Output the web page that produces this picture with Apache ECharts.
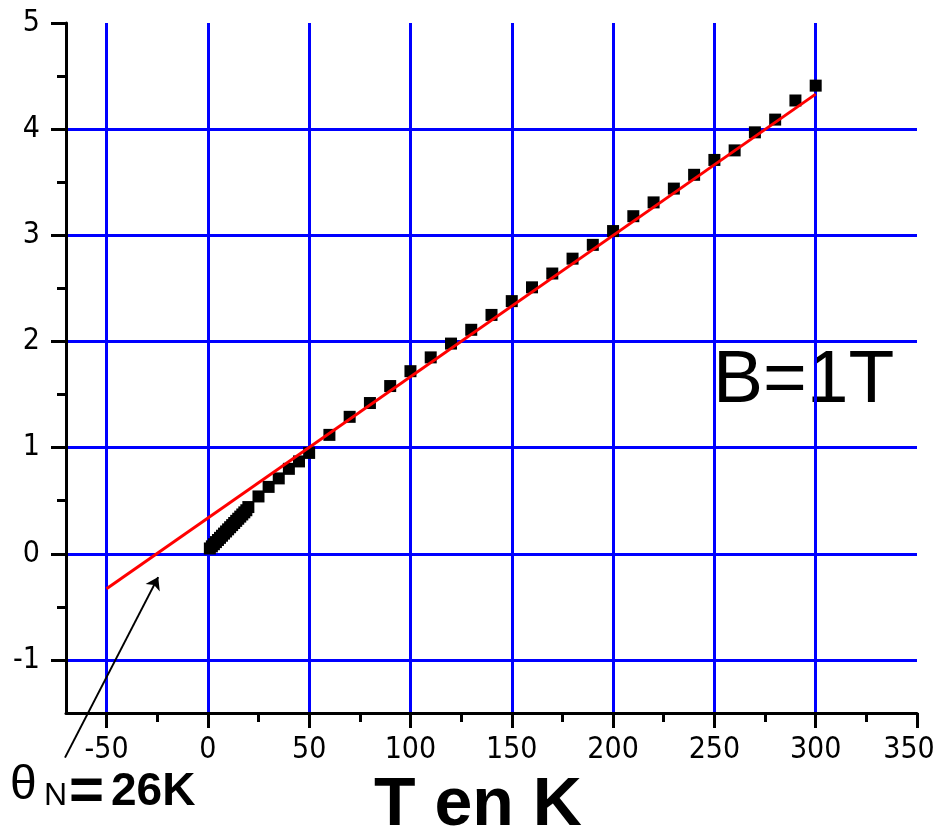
<!DOCTYPE html>
<html>
<head>
<meta charset="utf-8">
<script src="https://cdn.jsdelivr.net/npm/echarts@6/dist/echarts.min.js"></script>
<style>
  html, body { margin: 0; padding: 0; background: #fff; }
  #chart { width: 939px; height: 832px; }
</style>
</head>
<body>
<div id="chart"></div>
<script>
// measured points (T in K, y)
const tempK = [1, 2, 3, 4, 5, 6, 7, 8, 9, 10, 11, 12, 13, 14, 15, 16, 17, 18, 19, 20,
  25, 30, 35, 40, 45, 50,
  60, 70, 80, 90, 100, 110, 120, 130, 140, 150, 160, 170, 180, 190, 200,
  210, 220, 230, 240, 250, 260, 270, 280, 290, 300];
const yValues = [0.05, 0.07, 0.09, 0.11, 0.13, 0.15, 0.17, 0.19, 0.21, 0.23, 0.25, 0.27, 0.29, 0.31, 0.33, 0.35, 0.37, 0.39, 0.41, 0.44,
  0.54, 0.63, 0.71, 0.80, 0.87, 0.95,
  1.12, 1.29, 1.42, 1.58, 1.72, 1.85, 1.98, 2.11, 2.25, 2.38, 2.51, 2.64, 2.78, 2.91, 3.04,
  3.18, 3.31, 3.44, 3.57, 3.71, 3.80, 3.97, 4.09, 4.27, 4.41];

// linear fit
const fitX = [-50, 300];
const fitY = [-0.33, 4.33];

// arrow to theta_N
const arrowFrom = [-70.5, -1.92];
const arrowTo = [-24.5, -0.22];

// ticks
const xMajor = [-50, 0, 50, 100, 150, 200, 250, 300, 350];
const xMinor = [-25, 25, 75, 125, 175, 225, 275, 325];
const xGrid = [-50, 0, 50, 100, 150, 200, 250, 300];
const yMajor = [-1, 0, 1, 2, 3, 4, 5];
const yMinor = [-0.5, 0.5, 1.5, 2.5, 3.5, 4.5];
const yGrid = [-1, 0, 1, 2, 3, 4];

const labelFont = "'Liberation Sans Narrow', 'DejaVu Sans Condensed', 'Liberation Sans', sans-serif";

const chart = echarts.init(document.getElementById('chart'));

const xBase = { type: 'value', min: -70, max: 350, position: 'bottom' };
const yBase = { type: 'value', min: -1.5, max: 5, position: 'left' };

const option = {
  backgroundColor: '#fff',
  animation: false,
  grid: { left: 66, right: 22, top: 23, bottom: 119, outerBoundsMode: 'none', containLabel: false },
  xAxis: [
    Object.assign({}, xBase, {
      axisLine: { show: true, onZero: false, lineStyle: { color: '#000', width: 3 } },
      axisTick: { show: true, customValues: xMajor, length: 15, lineStyle: { color: '#000', width: 3 } },
      axisLabel: {
        customValues: xMajor, color: '#000', fontSize: 30, fontFamily: labelFont, margin: 22,
        // last label sits against the right edge, nudge it left a little
        formatter: (v) => (v === 350 ? '{m|' + v + '}' : String(v)),
        rich: { m: { padding: [0, 16, 0, 0], color: '#000', fontSize: 30, fontFamily: labelFont } }
      },
      splitLine: { show: false }
    }),
    Object.assign({}, xBase, {
      axisLine: { show: false, onZero: false },
      axisTick: { show: true, customValues: xMinor, length: 9, lineStyle: { color: '#000', width: 3 } },
      axisLabel: { show: false },
      splitLine: { show: false }
    }),
    Object.assign({}, xBase, {
      axisLine: { show: false, onZero: false },
      axisTick: { show: false, customValues: xGrid },
      axisLabel: { show: false },
      splitLine: { show: true, lineStyle: { color: '#0000ff', width: 3 } }
    })
  ],
  yAxis: [
    Object.assign({}, yBase, {
      axisLine: { show: true, onZero: false, lineStyle: { color: '#000', width: 3 } },
      axisTick: { show: true, customValues: yMajor, length: 15, lineStyle: { color: '#000', width: 3 } },
      axisLabel: { customValues: yMajor, color: '#000', fontSize: 30, fontFamily: labelFont, margin: 26 },
      splitLine: { show: false }
    }),
    Object.assign({}, yBase, {
      axisLine: { show: false, onZero: false },
      axisTick: { show: true, customValues: yMinor, length: 9, lineStyle: { color: '#000', width: 3 } },
      axisLabel: { show: false },
      splitLine: { show: false }
    }),
    Object.assign({}, yBase, {
      axisLine: { show: false, onZero: false },
      axisTick: { show: false, customValues: yGrid },
      axisLabel: { show: false },
      splitLine: { show: true, lineStyle: { color: '#0000ff', width: 3 } }
    })
  ],
  series: [
    {
      type: 'scatter',
      data: tempK.map((t, i) => [t, yValues[i]]),
      symbol: 'rect',
      symbolSize: 12,
      itemStyle: { color: '#000', opacity: 1 },
      z: 3
    },
    {
      type: 'line',
      data: fitX.map((t, i) => [t, fitY[i]]),
      symbol: 'none',
      lineStyle: { color: '#ff0000', width: 3 },
      z: 4
    },
    {
      type: 'lines',
      coordinateSystem: 'cartesian2d',
      clip: false,
      symbol: ['none', 'arrow'],
      symbolSize: 12,
      lineStyle: { color: '#000', width: 2, opacity: 1 },
      data: [{ coords: [arrowFrom, arrowTo] }],
      z: 5
    }
  ],
  graphic: [
    {
      type: 'text', left: 713, top: 344,
      style: { text: 'B=1T', fill: '#000', font: "75px 'Liberation Sans', Arial, sans-serif" }
    },
    {
      type: 'text', left: 374, top: 772,
      style: { text: 'T en K', fill: '#000', font: "bold 68px 'Liberation Sans', Arial, sans-serif" }
    },
    {
      type: 'text', left: 10, top: 762,
      style: { text: 'θ', fill: '#000', font: "48px 'Liberation Sans', Arial, sans-serif" }
    },
    {
      type: 'text', left: 44, top: 780,
      style: { text: 'N', fill: '#000', font: "32px 'Liberation Sans', Arial, sans-serif" }
    },
    {
      type: 'text', left: 69, top: 762,
      style: { text: '=', fill: '#000', font: "bold 60px 'Liberation Sans', Arial, sans-serif" }
    },
    {
      type: 'text', left: 111, top: 769,
      style: { text: '26K', fill: '#000', font: "bold 46px 'Liberation Sans', Arial, sans-serif" }
    }
  ]
};

chart.setOption(option);
</script>
</body>
</html>
